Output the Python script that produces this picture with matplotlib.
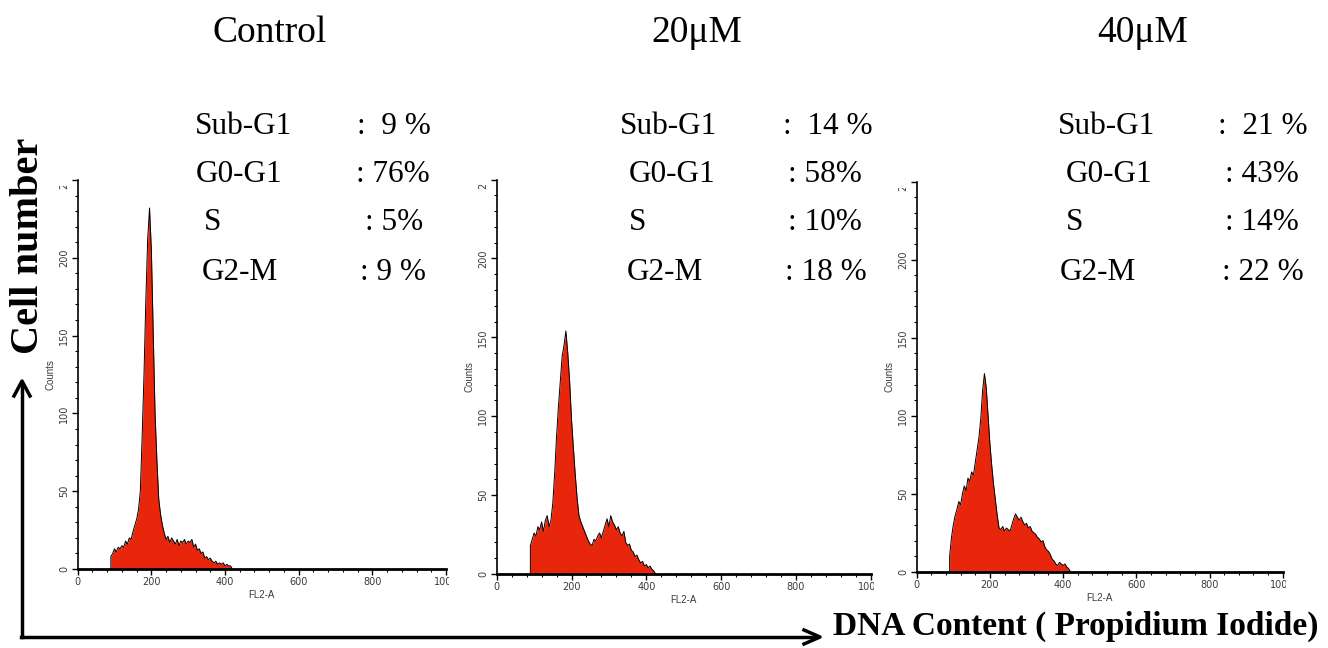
import numpy as np
import matplotlib
matplotlib.use("Agg")
from matplotlib import pyplot as plt
from matplotlib.transforms import Bbox, TransformedBbox

# FL2-A channel (step 5) and counts
ch_ctrl = [90, 95, 100, 105, 110, 115, 120, 125, 130, 135, 140, 145, 150, 155,
           160, 165, 170, 175, 180, 185, 190, 195, 200, 205, 210, 215, 220, 225,
           230, 235, 240, 245, 250, 255, 260, 265, 270, 275, 280, 285, 290, 295,
           300, 305, 310, 315, 320, 325, 330, 335, 340, 345, 350, 355, 360, 365,
           370, 375, 380, 385, 390, 395, 400, 405, 410, 415, 420]
cnt_ctrl = [8, 10, 13, 11, 14, 13, 15, 14, 18, 16, 20, 19, 24, 28,
            32, 38, 50, 85, 125, 173, 212, 232, 205, 152, 100, 70, 45, 35,
            28, 23, 19, 21, 17, 20, 18, 16, 19, 15, 18, 17, 19, 16,
            18, 17, 19, 14, 16, 12, 13, 10, 11, 7, 8, 6, 7, 5,
            4, 5, 3, 4, 3, 4, 2, 3, 2, 2, 0]

ch_20 = [90, 95, 100, 105, 110, 115, 120, 125, 130, 135, 140, 145, 150, 155,
         160, 165, 170, 175, 180, 185, 190, 195, 200, 205, 210, 215, 220, 225,
         230, 235, 240, 245, 250, 255, 260, 265, 270, 275, 280, 285, 290, 295,
         300, 305, 310, 315, 320, 325, 330, 335, 340, 345, 350, 355, 360, 365,
         370, 375, 380, 385, 390, 395, 400, 405, 410, 415, 420, 425]
cnt_20 = [18, 22, 26, 24, 30, 28, 33, 27, 34, 37, 30, 34, 45, 64,
          87, 106, 122, 138, 145, 154, 140, 122, 98, 80, 63, 48, 37, 33,
          30, 27, 24, 21, 19, 18, 22, 21, 24, 26, 23, 27, 31, 35,
          30, 37, 33, 31, 28, 30, 26, 24, 27, 20, 18, 19, 15, 14,
          11, 12, 9, 7, 8, 5, 6, 4, 5, 3, 2, 0]

ch_40 = [90, 95, 100, 105, 110, 115, 120, 125, 130, 135, 140, 145, 150, 155,
         160, 165, 170, 175, 180, 185, 190, 195, 200, 205, 210, 215, 220, 225,
         230, 235, 240, 245, 250, 255, 260, 265, 270, 275, 280, 285, 290, 295,
         300, 305, 310, 315, 320, 325, 330, 335, 340, 345, 350, 355, 360, 365,
         370, 375, 380, 385, 390, 395, 400, 405, 410, 415, 420]
cnt_40 = [10, 22, 30, 36, 40, 45, 43, 50, 55, 52, 60, 58, 64, 62,
          70, 78, 86, 98, 116, 127, 118, 100, 82, 68, 56, 46, 36, 28,
          27, 29, 26, 28, 27, 26, 30, 34, 37, 35, 33, 35, 32, 30,
          31, 28, 29, 26, 25, 24, 22, 21, 19, 20, 16, 14, 13, 11,
          8, 7, 5, 4, 6, 5, 4, 5, 3, 2, 0]

titles = ["Control", "20\u03bcM", "40\u03bcM"]
phases = ["Sub-G1", "G0-G1", "S", "G2-M"]
vals_ctrl = [":  9 %", ": 76%", ": 5%", ": 9 %"]
vals_20 = [":  14 %", ": 58%", ": 10%", ": 18 %"]
vals_40 = [":  21 %", ": 43%", ": 14%", ": 22 %"]

xticks = [0, 200, 400, 600, 800, 1000]
yticks = [0, 50, 100, 150, 200, 250]

W, H = 1328, 648
fig = plt.figure(figsize=(W/100, H/100), dpi=100)

def fx(x): return x/W
def fy(y): return 1 - y/H

# axes boxes in pixels: left, right, bottom(y0), top
boxes = [(77.7, 446, 569, 180), (496.7, 870.7, 574, 179.5), (916.7, 1282.7, 571.7, 181.7)]
# text layout: title centre x, label x's, colon x's
title_x = [270, 697, 1143]
lab_x = [[195, 196, 204, 202], [620, 629, 629, 627], [1058, 1066, 1066, 1060]]
col_x = [[357, 356, 365, 360], [783, 788, 788, 785], [1218, 1225, 1225, 1222]]
row_y = [126, 174, 223, 272]

serif = "Liberation Serif"
red = "#e8260c"
tick_col = "#3a3a3a"

data = [(ch_ctrl, cnt_ctrl, vals_ctrl), (ch_20, cnt_20, vals_20), (ch_40, cnt_40, vals_40)]

for i, (ch, cnt, vals) in enumerate(data):
    l, r, b, t = boxes[i]
    ax = fig.add_axes([fx(l), fy(b), (r-l)/W, (b-t)/H])
    ax.fill_between(ch, cnt, 0, color=red, lw=0)
    ax.plot([ch[0]] + ch, [0] + cnt, color="black", lw=0.7)
    ax.set_xlim(0, 1000)
    ax.set_ylim(0, 250)
    for s in ["top", "right"]:
        ax.spines[s].set_visible(False)
    ax.spines["left"].set_linewidth(1.2)
    ax.spines["bottom"].set_linewidth(2.0)
    ax.set_xticks(xticks)
    ax.set_xticks(np.arange(0, 1001, 40), minor=True)
    ax.set_yticks(yticks)
    ax.set_yticks(np.arange(0, 251, 10), minor=True)
    ax.tick_params(which="major", length=4, width=1, color="black",
                   labelsize=7, labelcolor=tick_col, pad=2)
    ax.tick_params(which="minor", length=2.5, width=0.8, color="black")
    ax.tick_params(axis="y", labelrotation=90)
    for lbl in ax.get_yticklabels():
        lbl.set_va("center")
    ax.set_xlabel("FL2-A", fontsize=7, color=tick_col, labelpad=2, family="Liberation Sans")
    ax.set_ylabel("Counts", fontsize=7, color=tick_col, labelpad=3, family="Liberation Sans")
    # the source image is cropped: clip the last tick labels at the axes edge
    clip = TransformedBbox(Bbox([[-0.3, -0.3], [1.008, 0.985]]), ax.transAxes)
    for tk in ax.xaxis.get_major_ticks() + ax.yaxis.get_major_ticks():
        tk.label1.set_clip_on(True)
        tk.label1.set_clip_box(clip)

    fig.text(fx(title_x[i]), fy(33), titles[i], family=serif, fontsize=27,
             ha="center", va="center")
    for k in range(4):
        fig.text(fx(lab_x[i][k]), fy(row_y[k]), phases[k], family=serif,
                 fontsize=22.5, ha="left", va="center")
        fig.text(fx(col_x[i][k]), fy(row_y[k]), vals[k], family=serif,
                 fontsize=22.5, ha="left", va="center")

# outer axis arrows
fig.add_artist(plt.Line2D([fx(22), fx(22)], [fy(637), fy(384)], color="black", lw=2.5))
fig.add_artist(plt.Line2D([fx(20.8), fx(816)], [fy(637), fy(637)], color="black", lw=2.5))
fig.add_artist(plt.Line2D([fx(14), fx(22), fx(30)], [fy(396), fy(381), fy(396)],
                          color="black", lw=2.5))
fig.add_artist(plt.Line2D([fx(804), fx(820), fx(804)], [fy(630), fy(637), fy(644)],
                          color="black", lw=2.5))

fig.text(fx(29), fy(246), "Cell number", family=serif, weight="bold", fontsize=29,
         rotation=90, ha="center", va="center")
fig.text(fx(833), fy(626), "DNA Content ( Propidium Iodide)", family=serif,
         weight="bold", fontsize=24, ha="left", va="center")

fig.savefig("out.png", dpi=100)
